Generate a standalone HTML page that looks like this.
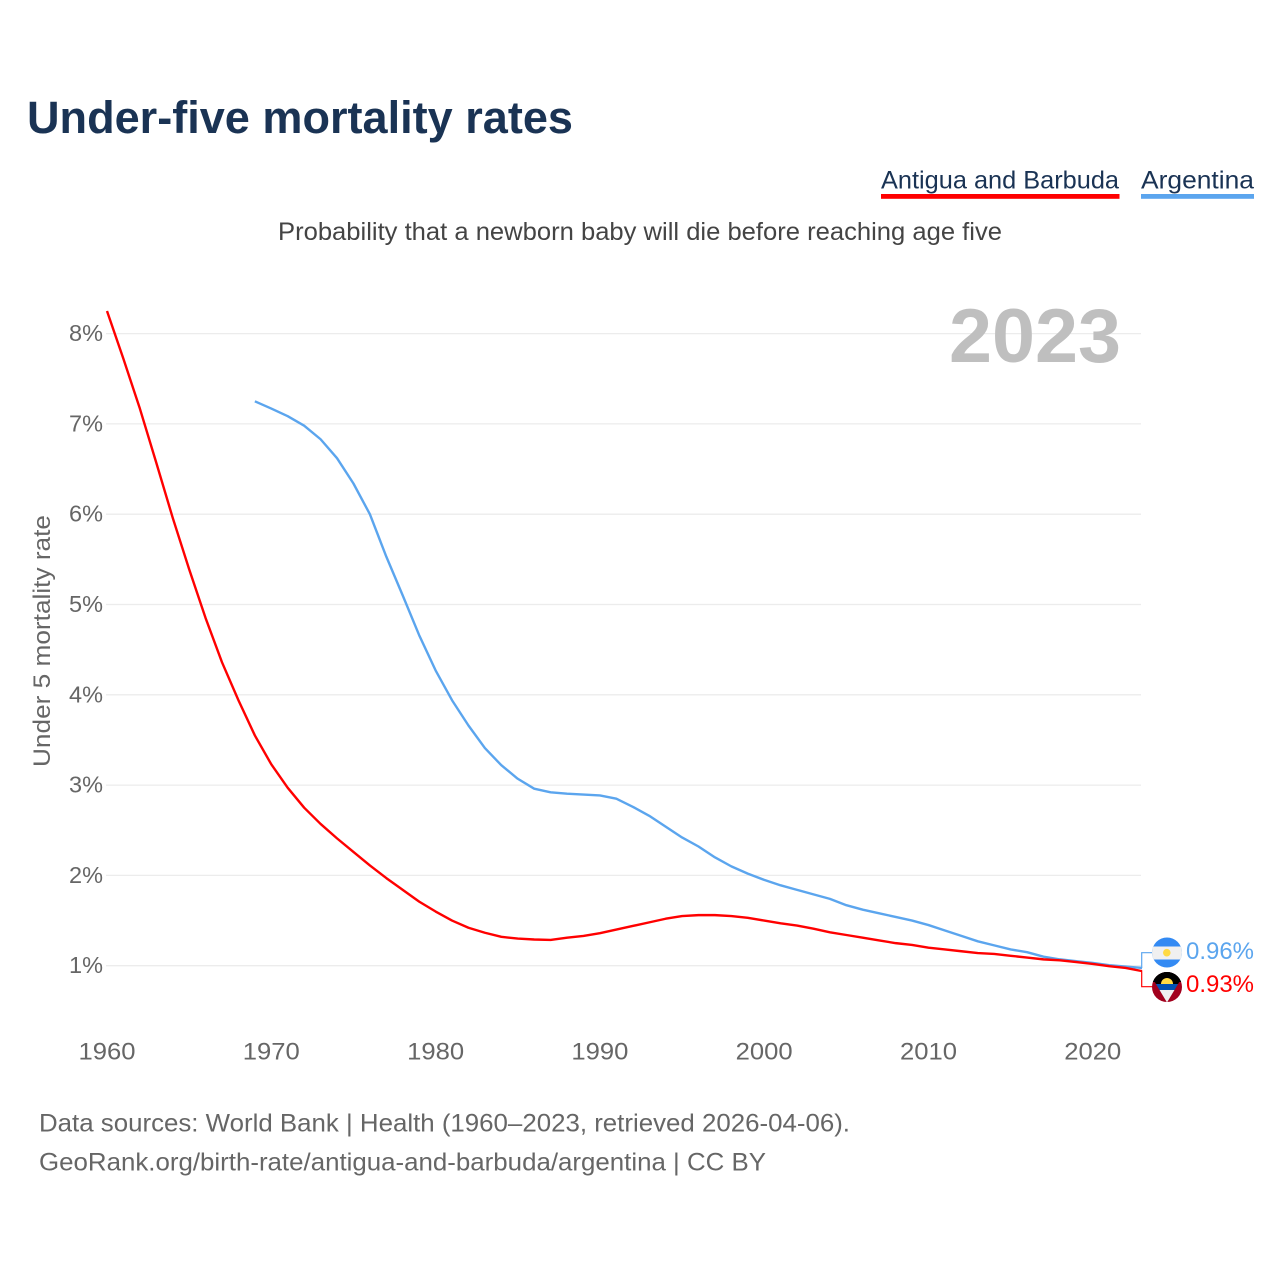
<!DOCTYPE html>
<html>
<head>
<meta charset="utf-8">
<title>Under-five mortality rates</title>
<style>
  html, body { margin: 0; padding: 0; background: #fff; }
  svg { display: block; font-family: "Liberation Sans", sans-serif; }
</style>
</head>
<body>
<svg id="chart" xmlns="http://www.w3.org/2000/svg" width="1280" height="1280" viewBox="0 0 1280 1280">
  <rect width="1280" height="1280" fill="#fff"/>
  <text x="27" y="133" font-size="45" font-weight="700" fill="#1a3354" textLength="546" lengthAdjust="spacingAndGlyphs">Under-five mortality rates</text>

  <g>
    <text x="881" y="188.500" font-size="25" fill="#1a3354" textLength="238" lengthAdjust="spacingAndGlyphs">Antigua and Barbuda</text>
    <rect x="881" y="194" width="238.500" height="4.800" fill="#ff0000"/>
  </g>
  <g>
    <text x="1141" y="188.500" font-size="25" fill="#1a3354" textLength="113" lengthAdjust="spacingAndGlyphs">Argentina</text>
    <rect x="1141" y="194" width="113" height="4.800" fill="#5ba5ee"/>
  </g>

  <text x="278" y="240" font-size="25" fill="#444" textLength="724" lengthAdjust="spacingAndGlyphs">Probability that a newborn baby will die before reaching age five</text>

  <g id="grid"></g>

  <text x="949" y="362" font-size="76" font-weight="700" fill="#bfbfbf" textLength="172" lengthAdjust="spacingAndGlyphs">2023</text>

  <text transform="translate(50,767) rotate(-90)" font-size="24" fill="#666" textLength="252" lengthAdjust="spacingAndGlyphs">Under 5 mortality rate</text>

  <g id="y-ticks"></g>
  <g id="x-ticks"></g>
  <g id="series"></g>
  <g id="connectors"></g>

  <defs>
    <clipPath id="flag-clip-ar"><circle cx="1167" cy="952.500" r="15"/></clipPath>
    <clipPath id="flag-clip-ag"><circle cx="1167" cy="987" r="15"/></clipPath>
    <clipPath id="vee-clip-ag"><polygon points="1147,969 1187,969 1167,1002.500"/></clipPath>
  </defs>

  <g clip-path="url(#flag-clip-ar)">
    <rect x="1152" y="937" width="30" height="31" fill="#338af3"/>
    <rect x="1152" y="946.500" width="30" height="13" fill="#f0f0f0"/>
    <circle cx="1166.800" cy="952.700" r="3.800" fill="#ffda44"/>
  </g>
  <g clip-path="url(#flag-clip-ag)">
    <rect x="1152" y="972" width="30" height="30" fill="#a2001d"/>
    <rect x="1152" y="972" width="30" height="10" fill="#000"/>
    <g clip-path="url(#vee-clip-ag)">
      <rect x="1147" y="969" width="40" height="15" fill="#000"/>
      <rect x="1147" y="984" width="40" height="6" fill="#0052b4"/>
      <rect x="1147" y="990" width="40" height="13" fill="#f0f0f0"/>
    </g>
    <path d="M1161 984 a6 6 0 0 1 12 0z" fill="#ffda44"/>
  </g>

  <text x="1186" y="959" font-size="24" fill="#5ba5ee" textLength="68" lengthAdjust="spacingAndGlyphs">0.96%</text>
  <text x="1186" y="992" font-size="24" fill="#ff0000" textLength="68" lengthAdjust="spacingAndGlyphs">0.93%</text>

  <text x="39" y="1131.500" font-size="25" fill="#666" textLength="811" lengthAdjust="spacingAndGlyphs">Data sources: World Bank | Health (1960–2023, retrieved 2026-04-06).</text>
  <text x="39" y="1170.500" font-size="25" fill="#666" textLength="727" lengthAdjust="spacingAndGlyphs">GeoRank.org/birth-rate/antigua-and-barbuda/argentina | CC BY</text>
</svg>

<script>
const antiguaStartYear = 1960;
const antiguaValues = [8.25, 7.72, 7.17, 6.57, 5.96, 5.39, 4.85, 4.36, 3.94, 3.55, 3.23, 2.97, 2.75, 2.57, 2.41, 2.26, 2.11, 1.97, 1.84, 1.71, 1.6, 1.5, 1.42, 1.365, 1.32, 1.3, 1.29, 1.285, 1.31, 1.33, 1.36, 1.4, 1.44, 1.48, 1.52, 1.55, 1.56, 1.56, 1.55, 1.53, 1.5, 1.47, 1.445, 1.41, 1.37, 1.34, 1.31, 1.28, 1.25, 1.23, 1.2, 1.18, 1.16, 1.14, 1.13, 1.11, 1.09, 1.07, 1.06, 1.04, 1.02, 0.995, 0.975, 0.94];
const argentinaStartYear = 1969;
const argentinaValues = [7.25, 7.17, 7.085, 6.98, 6.83, 6.62, 6.34, 6.0, 5.53, 5.1, 4.66, 4.27, 3.94, 3.66, 3.41, 3.22, 3.07, 2.96, 2.92, 2.905, 2.895, 2.885, 2.85, 2.76, 2.66, 2.54, 2.42, 2.32, 2.2, 2.1, 2.02, 1.95, 1.89, 1.84, 1.79, 1.74, 1.67, 1.62, 1.58, 1.54, 1.5, 1.45, 1.39, 1.33, 1.27, 1.225, 1.18, 1.15, 1.1, 1.07, 1.05, 1.03, 1.005, 0.99, 0.975];
const yTicks = [1, 2, 3, 4, 5, 6, 7, 8];
const xTicks = [1960, 1970, 1980, 1990, 2000, 2010, 2020];

const SVG_NS = 'http://www.w3.org/2000/svg';
function xScale(year) { return 107 + (year - 1960) * 16.43; }
function yScale(v) { return 965.7 - (v - 1) * 90.3; }
function make(tag, attrs, parent) {
  const el = document.createElementNS(SVG_NS, tag);
  for (const k in attrs) el.setAttribute(k, attrs[k]);
  parent.appendChild(el);
  return el;
}

const grid = document.getElementById('grid');
const yTickGroup = document.getElementById('y-ticks');
yTicks.forEach(function (v) {
  const line = make('line', { x1: 106, x2: 1141, y1: yScale(v), y2: yScale(v), stroke: '#ececec', 'stroke-width': 1.3 }, grid);
  
  
  const label = make('text', { x: 103, y: yScale(v) + 7.5, 'font-size': 23.5, fill: '#666', 'text-anchor': 'end' }, yTickGroup);
  
  
  label.textContent = v + '%';
});

const xTickGroup = document.getElementById('x-ticks');
xTicks.forEach(function (year) {
  const label = make('text', { x: xScale(year), y: 1059.5, 'font-size': 24, fill: '#666', 'text-anchor': 'middle', textLength: 57, lengthAdjust: 'spacingAndGlyphs' }, xTickGroup);
  
  
  label.textContent = year;
});

function linePoints(startYear, values) {
  return values.map(function (v, i) {
    return xScale(startYear + i).toFixed(2) + ',' + yScale(v).toFixed(2);
  }).join(' ');
}
const seriesGroup = document.getElementById('series');
const argentinaLine = make('polyline', { points: linePoints(argentinaStartYear, argentinaValues), fill: 'none', stroke: '#5ba5ee', 'stroke-width': 2.4, 'stroke-linejoin': 'round' }, seriesGroup);


const antiguaLine = make('polyline', { points: linePoints(antiguaStartYear, antiguaValues), fill: 'none', stroke: '#ff0000', 'stroke-width': 2.4, 'stroke-linejoin': 'round' }, seriesGroup);



const connectors = document.getElementById('connectors');
const lastArgentina = yScale(argentinaValues[argentinaValues.length - 1]);
const lastAntigua = yScale(antiguaValues[antiguaValues.length - 1]);
const connectorArgentina = make('polyline', { points: '1141.700,' + lastArgentina + ' 1141.700,952.700 1153,952.700', fill: 'none', stroke: '#5ba5ee', 'stroke-width': 1.2 }, connectors);


const connectorAntigua = make('polyline', { points: '1141.700,' + lastAntigua + ' 1141.700,986.700 1153,986.700', fill: 'none', stroke: '#ff0000', 'stroke-width': 1.2 }, connectors);


</script>
</body>
</html>
